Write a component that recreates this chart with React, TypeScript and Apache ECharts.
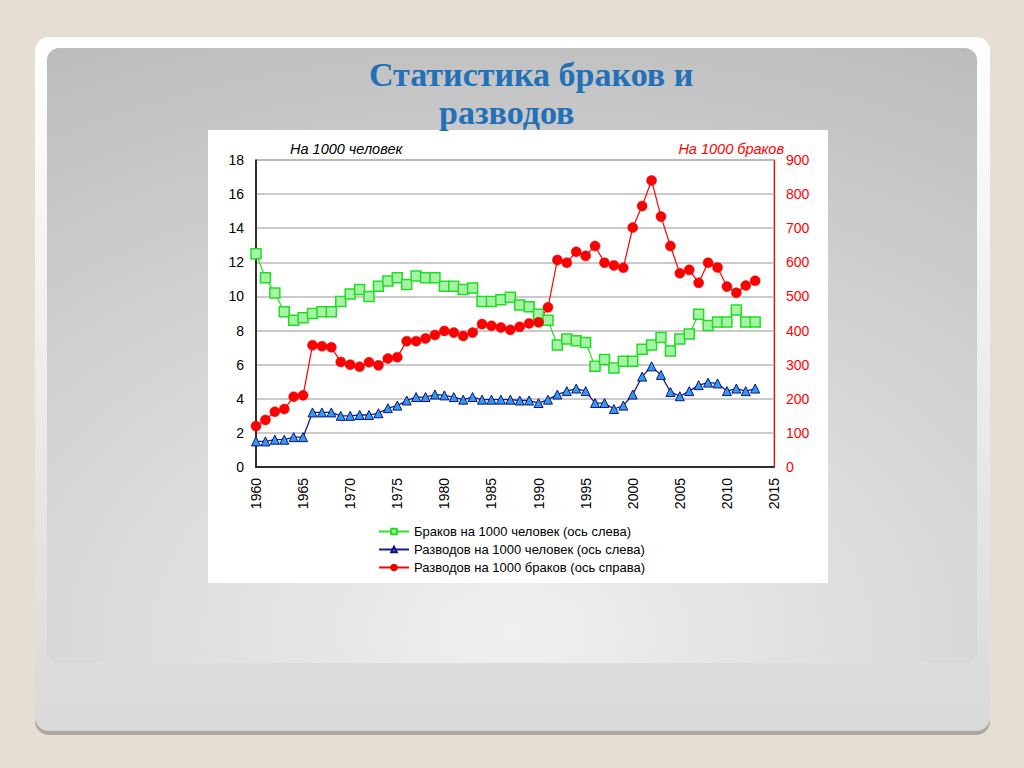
import React, { useEffect, useRef } from "react";
import * as echarts from "echarts";

const years = [
  1960, 1961, 1962, 1963, 1964, 1965, 1966, 1967, 1968, 1969,
  1970, 1971, 1972, 1973, 1974, 1975, 1976, 1977, 1978, 1979,
  1980, 1981, 1982, 1983, 1984, 1985, 1986, 1987, 1988, 1989,
  1990, 1991, 1992, 1993, 1994, 1995, 1996, 1997, 1998, 1999,
  2000, 2001, 2002, 2003, 2004, 2005, 2006, 2007, 2008, 2009,
  2010, 2011, 2012, 2013,
];

// Браков на 1000 человек (ось слева)
const marriagesPer1000 = [
  12.5, 11.1, 10.2, 9.1, 8.6, 8.75, 9.0, 9.1, 9.1, 9.7,
  10.15, 10.4, 10.0, 10.6, 10.9, 11.1, 10.7, 11.2, 11.1, 11.1,
  10.6, 10.6, 10.4, 10.5, 9.7, 9.7, 9.8, 9.95, 9.5, 9.4,
  8.95, 8.6, 7.15, 7.5, 7.4, 7.3, 5.9, 6.3, 5.8, 6.2,
  6.2, 6.9, 7.15, 7.6, 6.8, 7.5, 7.8, 8.95, 8.3, 8.5,
  8.5, 9.2, 8.5, 8.5,
];

// Разводов на 1000 человек (ось слева)
const divorcesPer1000 = [
  1.5, 1.5, 1.6, 1.6, 1.75, 1.75, 3.2, 3.2, 3.2, 3.0,
  3.0, 3.05, 3.05, 3.15, 3.45, 3.6, 3.9, 4.1, 4.1, 4.25,
  4.2, 4.1, 3.95, 4.1, 3.95, 3.95, 3.95, 3.95, 3.9, 3.9,
  3.75, 3.95, 4.25, 4.45, 4.6, 4.45, 3.75, 3.75, 3.4, 3.6,
  4.25, 5.3, 5.9, 5.4, 4.4, 4.15, 4.45, 4.8, 4.95, 4.9,
  4.45, 4.6, 4.45, 4.6,
];

// Разводов на 1000 браков (ось справа)
const divorcesPer1000Marriages = [
  120, 138, 162, 170, 206, 210, 357, 354, 351, 308,
  300, 294, 307, 298, 318, 322, 369, 369, 377, 387,
  399, 394, 384, 394, 419, 414, 409, 402, 411, 421,
  424, 468, 607, 599, 631, 619, 648, 599, 591, 584,
  702, 765, 840, 734, 648, 568, 578, 540, 599, 585,
  529, 511, 532, 546,
];

const seriesNames = [
  "Браков на 1000 человек (ось слева)",
  "Разводов на 1000 человек (ось слева)",
  "Разводов на 1000 браков (ось справа)",
];

const titleLines = ["Статистика браков и", "разводов"];
const leftAxisTitle = "На 1000 человек";
const rightAxisTitle = "На 1000 браков";

const SANS = "'Liberation Sans', Arial, sans-serif";
const SERIF = "'Liberation Serif', 'Times New Roman', serif";

function pairs(vals: number[]) {
  return years.map((y, i) => [y, vals[i]]);
}

export default function App() {
  const ref = useRef<HTMLDivElement>(null);

  useEffect(() => {
    if (!ref.current) return;
    const chart = echarts.init(ref.current, undefined, { renderer: "svg" });

    const option: any = {
      animation: false,
      graphic: [
        { type: "rect", z: -20, silent: true, shape: { x: 0, y: 0, width: 1024, height: 768 }, style: { fill: "#e5ded3" } },
        { type: "rect", z: -19, silent: true, shape: { x: 35, y: 41, width: 955, height: 694, r: 14 }, style: { fill: "#aca89f" } },
        {
          type: "rect", z: -18, silent: true,
          shape: { x: 35, y: 37, width: 955, height: 694, r: 14 },
          style: {
            fill: new echarts.graphic.LinearGradient(0, 0, 0, 1, [
              { offset: 0, color: "#ffffff" },
              { offset: 1, color: "#d9d9d9" },
            ]),
          },
        },
        {
          type: "rect", z: -17, silent: true,
          shape: { x: 47, y: 48, width: 930, height: 615, r: 12 },
          style: {
            fill: new echarts.graphic.RadialGradient(0.5, 0.95, 1.15, [
              { offset: 0, color: "#f0f0f0" },
              { offset: 1, color: "#b8b8b8" },
            ]),
          },
        },
        { type: "rect", z: -16, silent: true, shape: { x: 208, y: 130, width: 620, height: 453 }, style: { fill: "#ffffff" } },
        {
          type: "text", z: 5, x: 369, y: 74,
          style: { text: titleLines[0], fill: "#2270b8", font: `bold 34px ${SERIF}`, verticalAlign: "middle", align: "left" },
        },
        {
          type: "text", z: 5, x: 439, y: 112,
          style: { text: titleLines[1], fill: "#2270b8", font: `bold 34px ${SERIF}`, verticalAlign: "middle", align: "left" },
        },
        {
          type: "text", z: 5, x: 290, y: 149,
          style: { text: leftAxisTitle, fill: "#000000", font: `italic 14.5px ${SANS}`, verticalAlign: "middle", align: "left" },
        },
        {
          type: "text", z: 5, x: 784, y: 149,
          style: { text: rightAxisTitle, fill: "#ff0000", font: `italic 14.5px ${SANS}`, verticalAlign: "middle", align: "right" },
        },
      ],
      grid: {
        left: 256, top: 160, width: 518, height: 307,
        show: true, borderColor: "#808080", borderWidth: 1, backgroundColor: "transparent",
      },
      legend: {
        orient: "vertical",
        left: 373,
        top: 520,
        itemWidth: 30,
        itemHeight: 7,
        itemGap: 5,
        textStyle: { fontSize: 13, color: "#000", fontFamily: SANS },
        data: seriesNames,
      },
      xAxis: {
        type: "value",
        min: 1960,
        max: 2015,
        interval: 5,
        axisLine: { show: true, lineStyle: { color: "#000", width: 1.5 } },
        axisTick: { show: false },
        splitLine: { show: false },
        axisLabel: {
          rotate: 90,
          margin: 11,
          fontSize: 14,
          color: "#000",
          fontFamily: SANS,
          formatter: (v: number) => String(v),
        },
      },
      yAxis: [
        {
          type: "value",
          min: 0,
          max: 18,
          interval: 2,
          position: "left",
          axisLine: { show: true, lineStyle: { color: "#000", width: 1.5 } },
          axisTick: { show: false },
          splitLine: { show: true, lineStyle: { color: "#b8b8b8", width: 1.5 } },
          axisLabel: { fontSize: 14, color: "#000", fontFamily: SANS, margin: 12 },
        },
        {
          type: "value",
          min: 0,
          max: 900,
          interval: 100,
          position: "right",
          axisLine: { show: true, lineStyle: { color: "#ff0000", width: 1 } },
          axisTick: { show: false },
          splitLine: { show: false },
          axisLabel: { fontSize: 14, color: "#ff0000", fontFamily: SANS, margin: 12 },
        },
      ],
      series: [
        {
          name: seriesNames[0],
          type: "line",
          yAxisIndex: 0,
          data: pairs(marriagesPer1000),
          symbol: "rect",
          symbolSize: 10,
          lineStyle: { color: "#2de02d", width: 1.3 },
          itemStyle: { color: "#a6f2a6", borderColor: "#22dd22", borderWidth: 1.5 },
        },
        {
          name: seriesNames[1],
          type: "line",
          yAxisIndex: 0,
          data: pairs(divorcesPer1000),
          symbol: "triangle",
          symbolSize: 9,
          lineStyle: { color: "#1a1a8c", width: 1.3 },
          itemStyle: { color: "#2e9cf0", borderColor: "#12127a", borderWidth: 1 },
        },
        {
          name: seriesNames[2],
          type: "line",
          yAxisIndex: 1,
          data: pairs(divorcesPer1000Marriages),
          symbol: "circle",
          symbolSize: 10,
          lineStyle: { color: "#ff0000", width: 1.2 },
          itemStyle: { color: "#ff0000", borderColor: "#e00000", borderWidth: 0.5 },
        },
      ],
    };

    chart.setOption(option);
    return () => chart.dispose();
  }, []);

  return (
    <div
      ref={ref}
      style={{ position: "absolute", left: 0, top: 0, width: 1024, height: 768 }}
    />
  );
}
